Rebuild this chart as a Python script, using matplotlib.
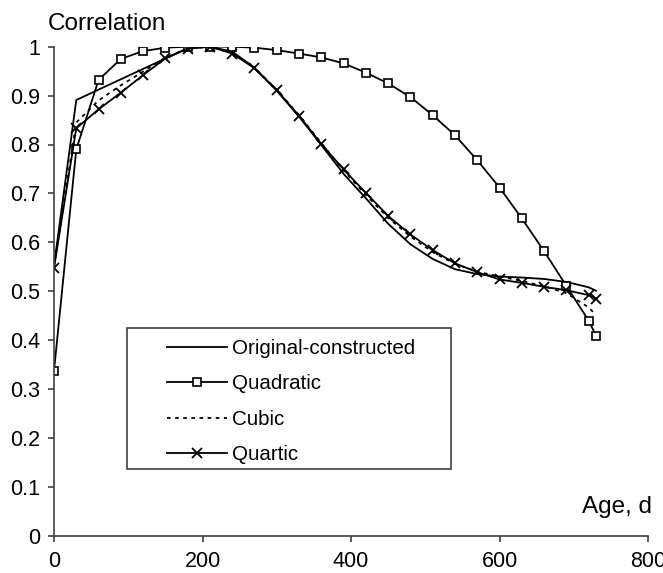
import matplotlib
matplotlib.use('Agg')
import matplotlib.pyplot as plt
from matplotlib.patches import Rectangle

plt.rcParams['font.family'] = ['Liberation Sans', 'DejaVu Sans']

# Age (days) at which each fitted correlation is evaluated
ages = [0, 30, 60, 90, 120, 150, 180, 210, 240, 270, 300, 330, 360,
        390, 420, 450, 480, 510, 540, 570, 600, 630, 660, 690, 720, 730]

quadratic = [0.337, 0.790, 0.932, 0.975, 0.991, 0.998, 1.000, 1.000, 1.000,
             0.998, 0.993, 0.986, 0.978, 0.966, 0.947, 0.925, 0.897, 0.860,
             0.819, 0.768, 0.712, 0.649, 0.582, 0.511, 0.440, 0.409]

cubic = [0.550, 0.845, 0.890, 0.921, 0.949, 0.978, 0.996, 1.000, 0.988,
         0.957, 0.912, 0.860, 0.803, 0.747, 0.697, 0.650, 0.612, 0.580,
         0.556, 0.540, 0.530, 0.521, 0.510, 0.496, 0.467, 0.451]

quartic = [0.548, 0.833, 0.872, 0.906, 0.942, 0.976, 0.996, 1.000, 0.986,
           0.956, 0.911, 0.859, 0.801, 0.749, 0.701, 0.654, 0.616, 0.584,
           0.557, 0.539, 0.524, 0.517, 0.509, 0.502, 0.492, 0.485]

# original-constructed correlations (no points between 30 and 180 d)
orig_ages = [0, 30, 180, 210, 240, 270, 300, 330, 360, 390, 420, 450,
             480, 510, 540, 570, 600, 630, 660, 690, 720, 730]
original = [0.552, 0.891, 0.997, 1.000, 0.990, 0.957, 0.910, 0.857, 0.799,
            0.740, 0.690, 0.638, 0.596, 0.566, 0.545, 0.535, 0.530, 0.528,
            0.525, 0.519, 0.508, 0.501]

x_ticks = [0, 200, 400, 600, 800]
y_ticks = [0, 0.1, 0.2, 0.3, 0.4, 0.5, 0.6, 0.7, 0.8, 0.9, 1]
y_labels = ['0', '0.1', '0.2', '0.3', '0.4', '0.5', '0.6', '0.7', '0.8', '0.9', '1']

W, H = 663, 573
fig = plt.figure(figsize=(W / 100, H / 100), dpi=100)
ax = fig.add_axes([54 / W, 37.3 / H, 594 / W, 489 / H])

lw = 1.3
ax.plot(orig_ages, original, color='black', lw=lw, label='Original-constructed')
ax.plot(ages, quadratic, color='black', lw=lw, marker='s', ms=6,
        mfc='white', mec='black', mew=1.2, label='Quadratic')
ax.plot(ages, cubic, color='black', lw=lw, linestyle=(0, (2, 2.5)), label='Cubic')
ax.plot(ages, quartic, color='black', lw=lw, marker='x', ms=7.5,
        mew=1.3, label='Quartic')

ax.set_xlim(0, 800)
ax.set_ylim(0, 1)
ax.set_xticks(x_ticks)
ax.set_xticklabels([str(t) for t in x_ticks])
ax.set_yticks(y_ticks)
ax.set_yticklabels(y_labels)

for s in ['top', 'right']:
    ax.spines[s].set_visible(False)
for s in ['left', 'bottom']:
    ax.spines[s].set_color('#404040')
    ax.spines[s].set_linewidth(1.2)
ax.tick_params(direction='out', length=4, width=1.2, color='#404040',
               labelsize=15.5)
ax.tick_params(axis='x', pad=7)
ax.tick_params(axis='y', pad=6)

fig.text(48 / W, 1 - 30 / H, 'Correlation', fontsize=17.5, ha='left', va='baseline')
fig.text(651.7 / W, 1 - 513 / H, 'Age, d', fontsize=17.5, ha='right', va='baseline')

# legend box
fig.patches.append(Rectangle((127.3 / W, 1 - 469.3 / H), 323.7 / W, 141.6 / H,
                             transform=fig.transFigure, fill=False,
                             edgecolor='#404040', lw=1.2))
ax.legend(loc='upper left', bbox_to_anchor=(167 / W, 1 - 339 / H),
          bbox_transform=fig.transFigure, frameon=False, fontsize=14.8,
          handlelength=2.9, handletextpad=0.25, labelspacing=0.8,
          borderpad=0, borderaxespad=0)

fig.savefig('out.png', dpi=100)
